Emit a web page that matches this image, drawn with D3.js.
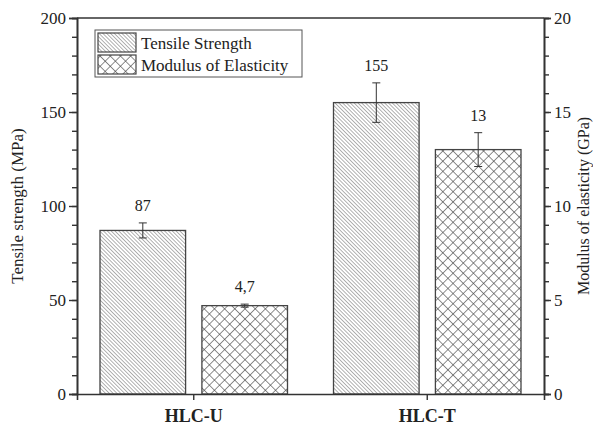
<!DOCTYPE html>
<html>
<head>
<meta charset="utf-8">
<script src="https://cdn.jsdelivr.net/npm/d3@7"></script>
<style>
  body { margin: 0; background: #fff; }
  text { font-family: "Liberation Serif", "Times New Roman", serif; fill: #222; }
</style>
</head>
<body>
<div id="chart"></div>
<script>
// values
const categories = ["HLC-U", "HLC-T"];
const tensile = [87, 155];          // MPa
const tensileErr = [4, 10.5];
const tensileLabels = ["87", "155"];
const modulus = [4.7, 13];          // GPa
const modulusErr = [0.08, 0.9];
const modulusLabels = ["4,7", "13"];
const leftTicks = [0, 50, 100, 150, 200];
const rightTicks = [0, 5, 10, 15, 20];

const W = 593, H = 427;
const margin = { top: 18, right: 49, bottom: 33, left: 77 };
const width = W - margin.left - margin.right;
const height = H - margin.top - margin.bottom;

const svg = d3.select("#chart").append("svg")
  .attr("width", W).attr("height", H);

const defs = svg.append("defs");

// diagonal hatch for tensile bars ("\\\" direction)
const p1 = defs.append("pattern")
  .attr("id", "diag").attr("patternUnits", "userSpaceOnUse")
  .attr("width", 2.7).attr("height", 2.7)
  .attr("patternTransform", "rotate(-45)");
p1.append("rect").attr("width", 2.7).attr("height", 2.7).attr("fill", "#fff");
p1.append("line").attr("x1", 0).attr("y1", 0).attr("x2", 0).attr("y2", 2.7)
  .attr("stroke", "#666").attr("stroke-width", 1);

// cross hatch for modulus bars
const p2 = defs.append("pattern")
  .attr("id", "cross").attr("patternUnits", "userSpaceOnUse")
  .attr("width", 7.2).attr("height", 7.2)
  .attr("patternTransform", "rotate(45)");
p2.append("rect").attr("width", 7.2).attr("height", 7.2).attr("fill", "#fff");
p2.append("line").attr("x1", 0).attr("y1", 0).attr("x2", 0).attr("y2", 7.2)
  .attr("stroke", "#444").attr("stroke-width", 1.2);
p2.append("line").attr("x1", 0).attr("y1", 0).attr("x2", 7.2).attr("y2", 0)
  .attr("stroke", "#444").attr("stroke-width", 1.2);

const g = svg.append("g").attr("transform", `translate(${margin.left},${margin.top})`);

const x = d3.scaleBand().domain(categories).range([0, width]).padding(0);
const inner = d3.scaleBand().domain(["t", "m"])
  .range([23, x.bandwidth() - 23]).paddingInner(0.16);

const yL = d3.scaleLinear().domain([0, 200]).range([height, 0]);
const yR = d3.scaleLinear().domain([0, 20]).range([height, 0]);

// bars
const data = categories.map((c, i) => ({
  c,
  items: [
    { key: "t", v: tensile[i], e: tensileErr[i], lab: tensileLabels[i], y: yL, fill: "url(#diag)" },
    { key: "m", v: modulus[i], e: modulusErr[i], lab: modulusLabels[i], y: yR, fill: "url(#cross)" }
  ]
}));

const groups = g.selectAll(".grp").data(data).enter().append("g")
  .attr("transform", d => `translate(${x(d.c)},0)`);

const bars = groups.selectAll(".bar").data(d => d.items).enter().append("g");

bars.append("rect")
  .attr("x", d => inner(d.key))
  .attr("width", inner.bandwidth())
  .attr("y", d => d.y(d.v))
  .attr("height", d => height - d.y(d.v))
  .attr("fill", d => d.fill)
  .attr("stroke", "#444").attr("stroke-width", 1.3);

// error bars
const cx = d => inner(d.key) + inner.bandwidth() / 2;
bars.append("line")
  .attr("x1", cx).attr("x2", cx)
  .attr("y1", d => d.y(d.v + d.e)).attr("y2", d => d.y(d.v - d.e))
  .attr("stroke", "#333").attr("stroke-width", 1);
bars.append("line")
  .attr("x1", d => cx(d) - 4).attr("x2", d => cx(d) + 4)
  .attr("y1", d => d.y(d.v + d.e)).attr("y2", d => d.y(d.v + d.e))
  .attr("stroke", "#333").attr("stroke-width", 1);
bars.append("line")
  .attr("x1", d => cx(d) - 4).attr("x2", d => cx(d) + 4)
  .attr("y1", d => d.y(d.v - d.e)).attr("y2", d => d.y(d.v - d.e))
  .attr("stroke", "#333").attr("stroke-width", 1);

// value labels
bars.append("text")
  .attr("x", cx)
  .attr("y", d => d.y(d.v + d.e) - 12)
  .attr("text-anchor", "middle")
  .style("font-size", "16px")
  .text(d => d.lab);

// axes
const axL = d3.axisLeft(yL).tickValues(leftTicks).tickSize(8).tickPadding(3);
const axL2 = d3.axisLeft(yL).tickValues(d3.range(0, 201, 10)).tickSize(5).tickFormat("");
const axR = d3.axisRight(yR).tickValues(rightTicks).tickSize(7).tickPadding(3);
const axR2 = d3.axisRight(yR).tickValues(d3.range(0, 21, 1)).tickSize(5).tickFormat("");
const axB = d3.axisBottom(x).tickSize(6).tickPadding(9);

function style(sel) {
  sel.selectAll("path,line").attr("stroke", "#333").attr("stroke-width", 1.4);
  sel.select(".domain").attr("stroke-width", 1.6);
  sel.selectAll("text").attr("fill", "#222")
    .style("font-family", "'Liberation Serif', serif").style("font-size", "17px");
}

g.append("g").call(axL2).call(style);
g.append("g").call(axL).call(style);
g.append("g").attr("transform", `translate(${width},0)`).call(axR2).call(style);
g.append("g").attr("transform", `translate(${width},0)`).call(axR).call(style);
const bx = g.append("g").attr("transform", `translate(0,${height})`).call(axB).call(style);
bx.selectAll("text").style("font-weight", "bold").style("font-size", "18px");

// top frame
g.append("line").attr("x1", 0).attr("x2", width).attr("y1", 0).attr("y2", 0)
  .attr("stroke", "#333").attr("stroke-width", 1.6);

// axis titles
svg.append("text")
  .attr("transform", `translate(23,${margin.top + height / 2}) rotate(-90)`)
  .attr("text-anchor", "middle")
  .style("font-size", "17px")
  .text("Tensile strength (MPa)");
svg.append("text")
  .attr("transform", `translate(589,${margin.top + height / 2}) rotate(-90)`)
  .attr("text-anchor", "middle")
  .style("font-size", "16px")
  .text("Modulus of elasticity (GPa)");

// legend
const leg = svg.append("g").attr("transform", "translate(95,30)");
leg.append("rect").attr("width", 207).attr("height", 47)
  .attr("fill", "#fff").attr("stroke", "#555").attr("stroke-width", 1);
const legItems = [
  { name: "Tensile Strength", fill: "url(#diag)" },
  { name: "Modulus of Elasticity", fill: "url(#cross)" }
];
legItems.forEach((d, i) => {
  leg.append("rect").attr("x", 3).attr("y", 3 + i * 22).attr("width", 38).attr("height", 19)
    .attr("fill", d.fill).attr("stroke", "#444").attr("stroke-width", 1.2);
  leg.append("text").attr("x", 46).attr("y", 19 + i * 22)
    .style("font-size", "17px").text(d.name);
});
</script>
</body>
</html>
